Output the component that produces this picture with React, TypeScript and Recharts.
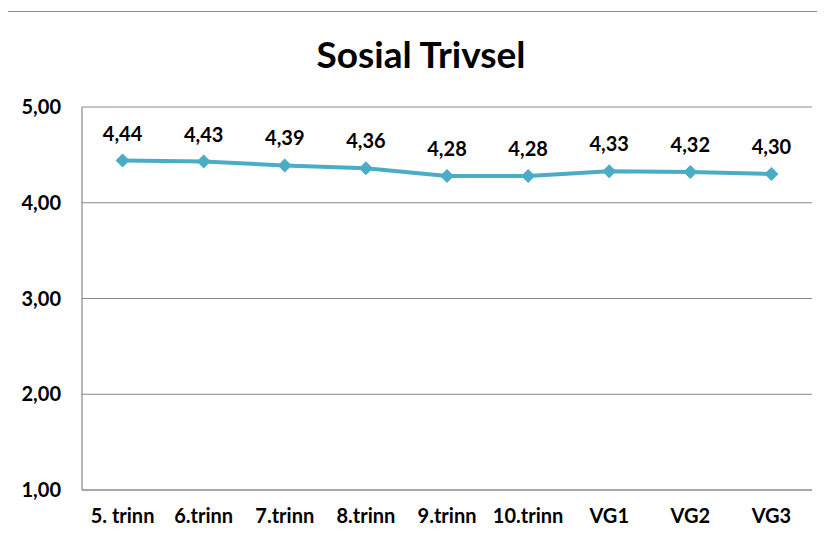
import React from "react";
import {
  LineChart,
  Line,
  XAxis,
  YAxis,
  CartesianGrid,
  LabelList,
} from "recharts";

const categories = [
  "5. trinn",
  "6.trinn",
  "7.trinn",
  "8.trinn",
  "9.trinn",
  "10.trinn",
  "VG1",
  "VG2",
  "VG3",
];
const trivsel = [4.44, 4.43, 4.39, 4.36, 4.28, 4.28, 4.33, 4.32, 4.3];
const yTicks = [1, 2, 3, 4, 5];

const data = categories.map((name, i) => ({ name, value: trivsel[i] }));

const FONT = "Lato, Carlito, Calibri, sans-serif";
const fmt = (v: number) => v.toFixed(2).replace(".", ",");

const Diamond = (props: any) => {
  const { cx, cy } = props;
  if (cx == null || cy == null) return null;
  const r = 7;
  return (
    <path
      d={`M${cx},${cy - r} L${cx + r},${cy} L${cx},${cy + r} L${cx - r},${cy} Z`}
      fill="#4BACC6"
    />
  );
};

export default function App() {
  return (
    <div
      style={{
        position: "relative",
        width: 825,
        height: 540,
        margin: -8,
        overflow: "hidden",
        background: "#fff",
        fontFamily: FONT,
      }}
    >
      <div
        style={{
          position: "absolute",
          left: 6,
          top: 11,
          width: 860,
          height: 600,
          border: "1.5px solid #8a8a8a",
        }}
      />
      <div
        style={{
          position: "absolute",
          left: 0,
          top: 31,
          width: 842,
          textAlign: "center",
          fontSize: 37,
          fontWeight: 700,
          color: "#000",
        }}
      >
        Sosial Trivsel
      </div>
      <div style={{ position: "absolute", left: 0, top: 0 }}>
        <LineChart
          width={825}
          height={540}
          data={data}
          margin={{ top: 107, right: 13, bottom: 0, left: 2 }}
        >
          <CartesianGrid
            horizontal={true}
            vertical={false}
            stroke="#898989"
            strokeWidth={1.2}
          />
          <XAxis
            dataKey="name"
            scale="band"
            axisLine={{ stroke: "#898989", strokeWidth: 1.2 }}
            tickLine={false}
            tickSize={0}
            tickMargin={19}
            height={50}
            interval={0}
            tick={{ fill: "#000", fontSize: 20, fontWeight: 700, fontFamily: FONT }}
          />
          <YAxis
            domain={[1, 5]}
            ticks={yTicks}
            width={80}
            axisLine={{ stroke: "#898989", strokeWidth: 1.2 }}
            tickLine={false}
            tickSize={0}
            tickMargin={21}
            tickFormatter={fmt}
            tick={{ fill: "#000", fontSize: 20, fontWeight: 700, fontFamily: FONT }}
          />
          <Line
            dataKey="value"
            stroke="#4BACC6"
            strokeWidth={4}
            dot={<Diamond />}
            activeDot={false}
            isAnimationActive={false}
          >
            <LabelList
              dataKey="value"
              position="top"
              offset={20}
              formatter={(v: any) => fmt(Number(v))}
              fill="#000"
              fontSize={20}
              fontWeight={700}
              fontFamily={FONT}
            />
          </Line>
        </LineChart>
      </div>
    </div>
  );
}
